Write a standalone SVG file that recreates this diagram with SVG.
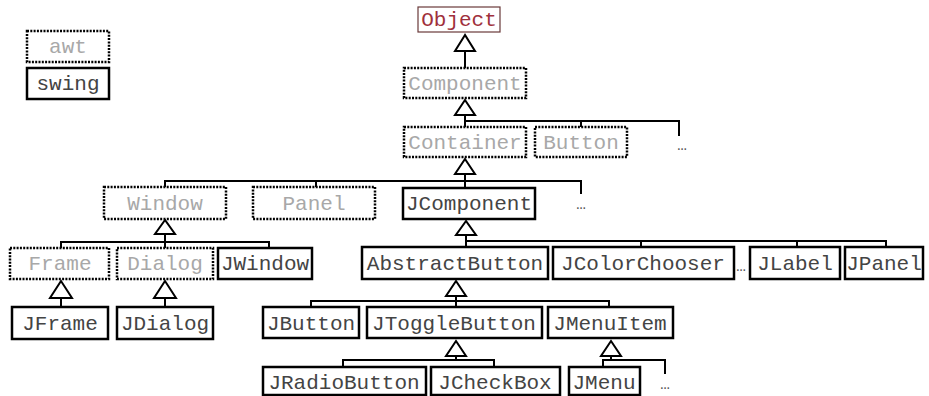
<svg xmlns="http://www.w3.org/2000/svg" width="929" height="396" viewBox="0 0 929 396">
<style>
.box{fill:#fff;stroke:#000;stroke-width:2.5}
.dot{fill:#fff;stroke:#000;stroke-width:2.5;stroke-dasharray:2 1.3}
.obj{fill:#fff;stroke:#6a3a3a;stroke-width:1.2}
text{font-family:"Liberation Mono","Courier New",monospace;font-size:21px;text-anchor:middle}
.g{fill:#a8a8a8}
.s{fill:#444}
.r{fill:#a0303c}
.e{fill:#555;font-size:16px}
.c line,.c polyline{stroke:#000;stroke-width:2;fill:none}
.c polygon{fill:#fff;stroke:#000;stroke-width:2}
</style>
<g id="legend-awt"><rect class="dot" x="27" y="31" width="82" height="31"/><text class="g" x="68" y="53">awt</text></g>
<g id="legend-swing"><rect class="box" x="27" y="68" width="82" height="31"/><text class="s" x="68" y="90">swing</text></g>

<g class="c" id="connectors">
<polygon points="465,35 455,51 475,51"/><line x1="465" y1="51" x2="465" y2="68"/>
<polygon points="465,100 455,115 475,115"/><polyline points="465,115 465,127"/><polyline points="465,121 679,121 679,136"/><line x1="581" y1="121" x2="581" y2="127"/>
<polygon points="465,159 455,174 475,174"/><polyline points="465,174 465,188"/><polyline points="165,187 165,181 581,181 581,194"/><line x1="316" y1="181" x2="316" y2="187"/>
<polygon points="165,220 155,234 175,234"/><polyline points="165,234 165,248"/><polyline points="61,248 61,242 269,242 269,248"/>
<polygon points="466,221 456,235 476,235"/><polyline points="466,235 466,247"/><polyline points="466,241 886,241 886,247"/><line x1="641" y1="241" x2="641" y2="247"/><line x1="797" y1="241" x2="797" y2="247"/>
<polygon points="61,281 50,298 72,298"/><line x1="61" y1="298" x2="61" y2="307"/>
<polygon points="165,281 154,298 176,298"/><line x1="165" y1="298" x2="165" y2="307"/>
<polygon points="456,281 446,296 466,296"/><polyline points="456,296 456,307"/><polyline points="311,307 311,301 609,301 609,307"/>
<polygon points="456,341 446,356 466,356"/><polyline points="456,356 456,360"/><polyline points="343,367 343,360 494,360 494,367"/>
<polygon points="611,341 601,356 621,356"/><polyline points="611,356 611,360"/><polyline points="603,367 603,360 665,360 665,374"/>
</g>

<g id="Object"><rect class="obj" x="418" y="7" width="82" height="25"/><text class="r" x="459" y="26">Object</text></g>
<g id="Component"><rect class="dot" x="404" y="68" width="122" height="30"/><text class="g" x="465" y="90">Component</text></g>
<g id="Container"><rect class="dot" x="404" y="127" width="122" height="30"/><text class="g" x="465" y="149">Container</text></g>
<g id="Button"><rect class="dot" x="535" y="127" width="92" height="30"/><text class="g" x="581" y="149">Button</text></g>
<g id="more1"><text class="e" x="682" y="150">…</text></g>
<g id="Window"><rect class="dot" x="104" y="187" width="122" height="32"/><text class="g" x="165" y="210">Window</text></g>
<g id="Panel"><rect class="dot" x="253" y="187" width="122" height="32"/><text class="g" x="314" y="210">Panel</text></g>
<g id="JComponent"><rect class="box" x="403" y="188" width="132" height="31"/><text class="s" x="469" y="210">JComponent</text></g>
<g id="more2"><text class="e" x="581" y="209">…</text></g>
<g id="Frame"><rect class="dot" x="10" y="248" width="99" height="31"/><text class="g" x="60" y="270">Frame</text></g>
<g id="Dialog"><rect class="dot" x="117" y="248" width="96" height="31"/><text class="g" x="165" y="270">Dialog</text></g>
<g id="JWindow"><rect class="box" x="218" y="248" width="94" height="31"/><text class="s" x="265" y="270">JWindow</text></g>
<g id="AbstractButton"><rect class="box" x="362" y="247" width="186" height="32"/><text class="s" x="455" y="270">AbstractButton</text></g>
<g id="JColorChooser"><rect class="box" x="553" y="247" width="181" height="32"/><text class="s" x="643" y="270">JColorChooser</text></g>
<g id="more3"><text class="e" x="741" y="271">…</text></g>
<g id="JLabel"><rect class="box" x="750" y="247" width="90" height="32"/><text class="s" x="795" y="270">JLabel</text></g>
<g id="JPanel"><rect class="box" x="845" y="247" width="78" height="32"/><text class="s" x="884" y="270">JPanel</text></g>
<g id="JFrame"><rect class="box" x="12" y="307" width="96" height="32"/><text class="s" x="60" y="330">JFrame</text></g>
<g id="JDialog"><rect class="box" x="117" y="307" width="96" height="32"/><text class="s" x="165" y="330">JDialog</text></g>
<g id="JButton"><rect class="box" x="263" y="307" width="96" height="31"/><text class="s" x="311" y="330">JButton</text></g>
<g id="JToggleButton"><rect class="box" x="367" y="307" width="175" height="31"/><text class="s" x="454" y="330">JToggleButton</text></g>
<g id="JMenuItem"><rect class="box" x="548" y="307" width="125" height="31"/><text class="s" x="610" y="330">JMenuItem</text></g>
<g id="JRadioButton"><rect class="box" x="263" y="367" width="163" height="28"/><text class="s" x="344" y="389">JRadioButton</text></g>
<g id="JCheckBox"><rect class="box" x="431" y="367" width="129" height="28"/><text class="s" x="495" y="389">JCheckBox</text></g>
<g id="JMenu"><rect class="box" x="569" y="367" width="71" height="28"/><text class="s" x="604" y="389">JMenu</text></g>
<g id="more4"><text class="e" x="665" y="389">…</text></g>
</svg>
